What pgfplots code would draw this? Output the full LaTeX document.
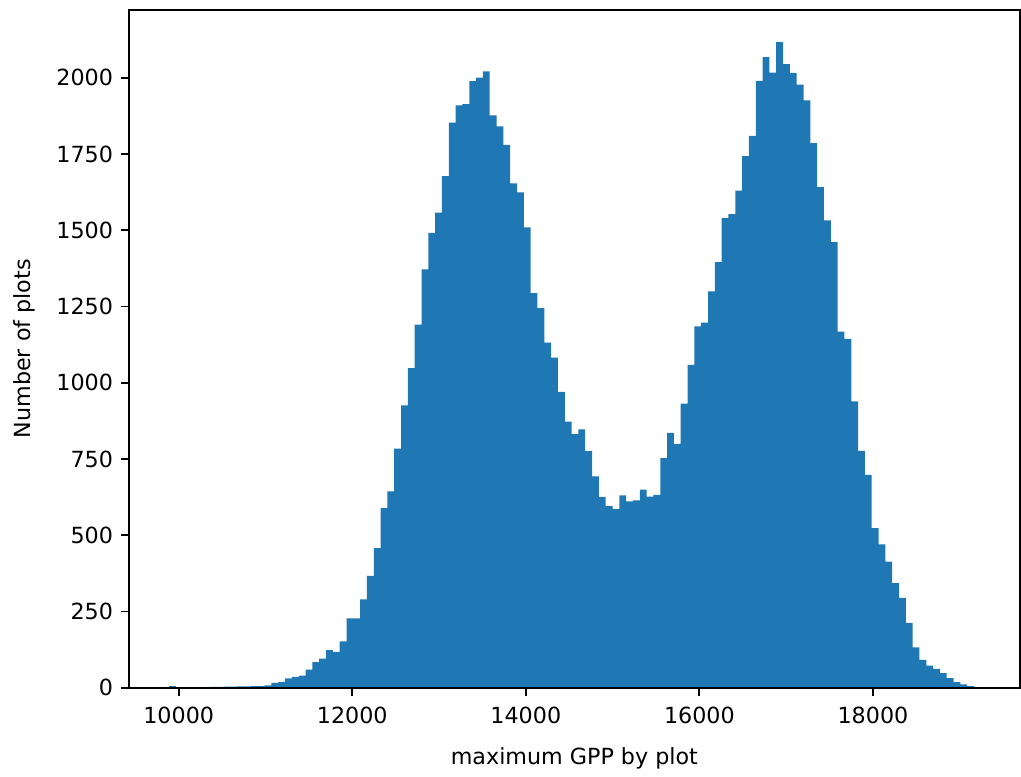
\documentclass[border={2.8pt 0pt 0pt 4pt}]{standalone}
\usepackage{fontspec}
\setmainfont{DejaVu Sans}
\usepackage{pgfplots}
\usepackage{pgfplotstable}
\pgfplotsset{compat=1.18}

\definecolor{mplblue}{HTML}{1F77B4}

% histogram: left bin edge, count (last row = right edge of last bin)
\pgfplotstableread{
edge count
9890.0 6
9968.6 0
10047.2 0
10125.8 0
10204.4 0
10283.0 0
10361.6 3
10440.2 3
10518.8 4
10597.4 4
10676.0 5
10754.6 5
10833.2 6
10911.8 6
10990.4 8
11069.0 16
11147.6 20
11226.2 31
11304.8 36
11383.4 40
11462.0 60
11540.6 84
11619.2 96
11697.8 124
11776.4 118
11855.0 152
11933.6 228
12012.2 228
12090.8 290
12169.4 367
12248.0 458
12326.6 589
12405.2 644
12483.8 784
12562.4 926
12641.0 1048
12719.6 1191
12798.2 1372
12876.8 1492
12955.4 1558
13034.0 1678
13112.6 1853
13191.2 1910
13269.8 1914
13348.4 1989
13427.0 2001
13505.6 2021
13584.2 1877
13662.8 1841
13741.4 1780
13820.0 1654
13898.6 1624
13977.2 1510
14055.8 1294
14134.4 1245
14213.0 1132
14291.6 1083
14370.2 970
14448.8 873
14527.4 832
14606.0 847
14684.6 776
14763.2 693
14841.8 626
14920.4 596
14999.0 587
15077.6 631
15156.2 611
15234.8 615
15313.4 650
15392.0 627
15470.6 633
15549.2 753
15627.8 836
15706.4 800
15785.0 932
15863.6 1059
15942.2 1185
16020.8 1197
16099.4 1300
16178.0 1396
16256.6 1540
16335.2 1553
16413.8 1630
16492.4 1743
16571.0 1810
16649.6 1990
16728.2 2068
16806.8 2017
16885.4 2117
16964.0 2045
17042.6 2016
17121.2 1978
17199.8 1926
17278.4 1786
17357.0 1642
17435.6 1533
17514.2 1461
17592.8 1168
17671.4 1144
17750.0 939
17828.6 777
17907.2 698
17985.8 524
18064.4 470
18143.0 414
18221.6 343
18300.2 295
18378.8 213
18457.4 133
18536.0 92
18614.6 73
18693.2 62
18771.8 48
18850.4 32
18929.0 19
19007.6 11
19086.2 6
19164.8 1
19243.4 0
}\histdata

\begin{document}
\begin{tikzpicture}
\begin{axis}[
    scale only axis,
    width=401pt, height=305pt,
    xmin=9423, xmax=19696,
    ymin=0, ymax=2223,
    xtick={10000,12000,14000,16000,18000},
    ytick={0,250,500,750,1000,1250,1500,1750,2000},
    scaled x ticks=false,
    scaled y ticks=false,
    /pgf/number format/.cd, 1000 sep={}, assume math mode=true,
    /pgfplots/.cd,
    tick align=outside,
    tick pos=left,
    major tick length=3.5pt,
    tick style={black, line width=0.8pt},
    axis line style={line width=0.8pt},
    tick label style={font=\fontsize{10}{12}\selectfont},
    xticklabel style={yshift=-1.5pt},
    label style={font=\fontsize{10}{12}\selectfont},
    xlabel={maximum GPP by plot},
    ylabel={Number of plots},
    xlabel style={yshift=-4pt},
    ylabel style={yshift=2.7pt},
    axis on top,
]
\addplot[ybar interval, fill=mplblue, draw=none] table[x=edge, y=count] {\histdata};
\end{axis}
\end{tikzpicture}
\end{document}
